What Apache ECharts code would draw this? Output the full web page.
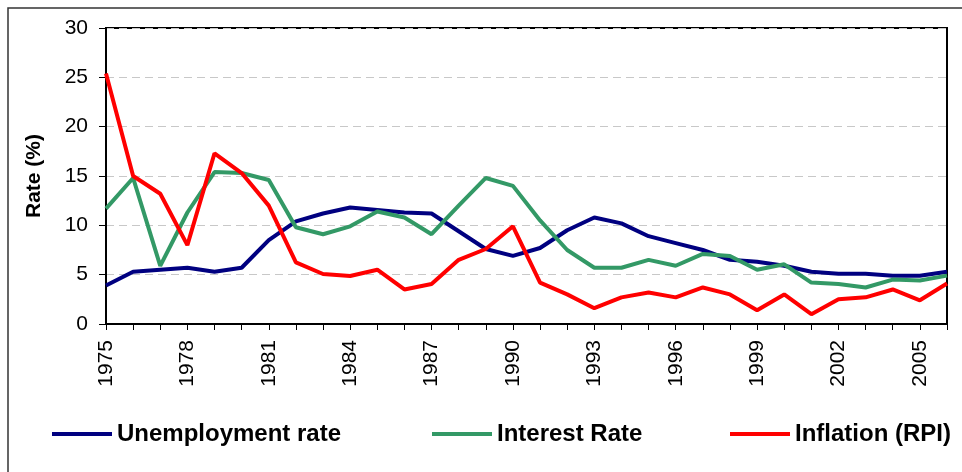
<!DOCTYPE html>
<html>
<head>
<meta charset="utf-8">
<script src="https://cdn.jsdelivr.net/npm/echarts@6/dist/echarts.min.js"></script>
<style>
  html, body { margin: 0; padding: 0; background: #fff; }
  #chart { width: 962px; height: 472px; }
</style>
</head>
<body>
<div id="chart"></div>
<script>
(function () {
    'use strict';
    var years = [];
    for (var y = 1975; y <= 2006; y++) {
        years.push(String(y));
    }

    var unemployment = [3.9, 5.3, 5.5, 5.7, 5.3, 5.7, 8.5, 10.4, 11.2, 11.8, 11.55, 11.3, 11.2, 9.4, 7.6, 6.9,
        7.7, 9.5, 10.8, 10.2, 8.9, 8.2, 7.5, 6.5, 6.3, 5.9, 5.3, 5.1, 5.1, 4.9, 4.9, 5.3];
    var interestRate = [11.7, 14.8, 5.9, 11.3, 15.4, 15.3, 14.6, 9.8, 9.1, 9.9, 11.4, 10.8, 9.1, 12.0, 14.8, 14.0,
        10.5, 7.5, 5.7, 5.7, 6.5, 5.9, 7.1, 6.9, 5.5, 6.05, 4.2, 4.05, 3.7, 4.5, 4.4, 4.9];
    var inflation = [25.4, 15.0, 13.2, 8.0, 17.3, 15.3, 12.0, 6.25, 5.07, 4.86, 5.5, 3.5, 4.05, 6.5, 7.6, 9.9,
        4.2, 3.0, 1.6, 2.7, 3.2, 2.7, 3.7, 3.0, 1.4, 3.0, 1.0, 2.5, 2.7, 3.5, 2.4, 4.1];

    var seriesNames = ['Unemployment rate', 'Interest Rate', 'Inflation (RPI)'];
    var colors = ['#000080', '#339966', '#ff0000'];
    var font = 'Arial, "Liberation Sans", sans-serif';

    var myChart = echarts.init(document.getElementById('chart'));

    // one legend per item so each sits where the original put it
    function makeLegend(name, left) {
        return {
            data: [name],
            left: left,
            top: 422,
            padding: 0,
            icon: 'rect',
            itemWidth: 60,
            itemHeight: 4,
            textStyle: { fontFamily: font, fontSize: 24, fontWeight: 'bold', color: '#000' }
        };
    }

    function makeSeries(name, values, color) {
        return {
            name: name,
            type: 'line',
            data: values,
            symbol: 'none',
            color: color,
            lineStyle: { width: 4, color: color },
            animation: false
        };
    }

    var option = {
        animation: false,
        graphic: [{
            type: 'rect',
            shape: { x: 8, y: 8, width: 1000, height: 500 },
            style: { fill: 'none', stroke: '#333', lineWidth: 1.5 },
            silent: true
        }],
        legend: [
            makeLegend(seriesNames[0], 52),
            makeLegend(seriesNames[1], 432),
            makeLegend(seriesNames[2], 730)
        ],
        grid: {
            left: 106,
            right: 15,
            top: 28,
            bottom: 148,
            show: true,
            borderColor: '#000',
            borderWidth: 2
        },
        xAxis: {
            type: 'category',
            data: years,
            boundaryGap: false,
            axisLine: { lineStyle: { color: '#000', width: 2 } },
            axisTick: { show: true, interval: 0, length: 6, lineStyle: { color: '#000' } },
            axisLabel: {
                interval: 2,
                rotate: 90,
                margin: 16,
                fontFamily: font,
                fontSize: 21,
                color: '#000'
            },
            splitLine: { show: false }
        },
        yAxis: {
            type: 'value',
            min: 0,
            max: 30,
            interval: 5,
            name: 'Rate (%)',
            nameLocation: 'middle',
            nameRotate: 90,
            nameGap: 61,
            nameTextStyle: { fontFamily: font, fontSize: 21, fontWeight: 'bold', color: '#000' },
            axisLine: { show: true, lineStyle: { color: '#000', width: 2 } },
            axisTick: { show: true, length: 7, lineStyle: { color: '#000' } },
            axisLabel: { margin: 18, fontFamily: font, fontSize: 21, color: '#000' },
            splitLine: { show: true, lineStyle: { color: '#c8c8c8', type: [8, 5], width: 1 } }
        },
        series: [
            makeSeries(seriesNames[0], unemployment, colors[0]),
            makeSeries(seriesNames[1], interestRate, colors[1]),
            makeSeries(seriesNames[2], inflation, colors[2])
        ]
    };

    myChart.setOption(option);
})();
</script>
</body>
</html>
